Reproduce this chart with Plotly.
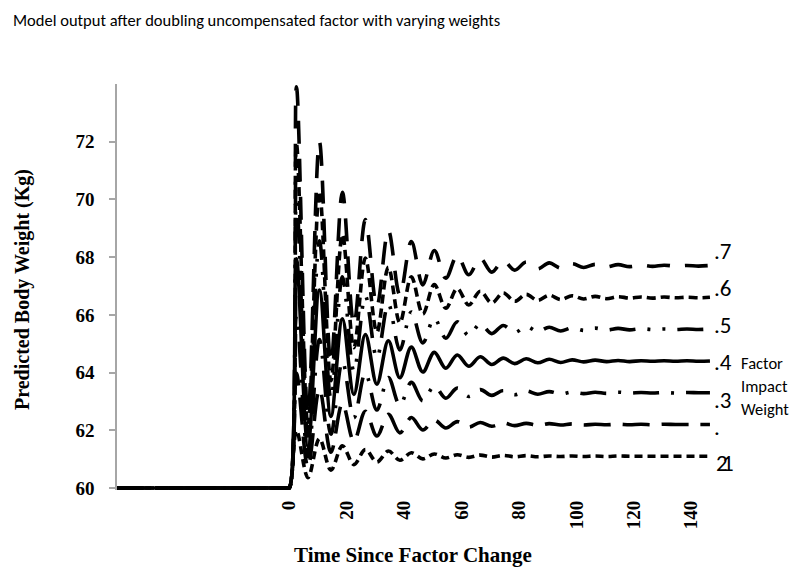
import plotly.graph_objects as go

# ---------------- data ----------------
time_since_change = [-60, -1, 0,
    2.5, 6.5, 10.5, 14.5, 18.5, 22.5, 26.5, 30.5, 34.5, 38.5, 42.5, 46.5,
    50.5, 54.5, 58.5, 62.5, 66.5, 70.5, 74.5, 78.5, 82.5, 86.5, 90.5, 94.5,
    98.5, 102.5, 106.5, 110.5, 114.5, 118.5, 122.5, 126.5, 130.5, 134.5,
    138.5, 142.5, 146.5]

weight_07 = [60, 60, 60,
    73.90, 62.52, 72.00, 64.34, 70.25, 65.67, 69.30, 66.30, 68.93, 66.69, 68.54, 67.04,
    68.23, 67.27, 68.06, 67.39, 67.96, 67.48, 67.88, 67.55, 67.83, 67.59, 67.80, 67.62,
    67.77, 67.64, 67.75, 67.66, 67.74, 67.67, 67.72, 67.68, 67.72, 67.69,
    67.71, 67.69, 67.71]

weight_06 = [60, 60, 60,
    71.92, 62.16, 70.28, 63.72, 68.78, 64.86, 67.97, 65.40, 67.65, 65.73, 67.32, 66.03,
    67.05, 66.23, 66.91, 66.34, 66.82, 66.41, 66.76, 66.47, 66.71, 66.50, 66.68, 66.53,
    66.66, 66.55, 66.64, 66.56, 66.63, 66.58, 66.62, 66.58, 66.62, 66.59,
    66.61, 66.59, 66.61]

weight_05 = [60, 60, 60,
    69.93, 61.80, 68.57, 63.10, 67.32, 64.05, 66.65, 64.50, 66.38, 64.78, 66.10, 65.03,
    65.88, 65.19, 65.76, 65.28, 65.69, 65.35, 65.63, 65.39, 65.60, 65.42, 65.57, 65.44,
    65.55, 65.46, 65.54, 65.47, 65.53, 65.48, 65.52, 65.49, 65.51, 65.49,
    65.51, 65.49, 65.51]

weight_04 = [60, 60, 60,
    67.94, 61.44, 66.86, 62.48, 65.86, 63.24, 65.32, 63.60, 65.10, 63.82, 64.88, 64.02,
    64.70, 64.15, 64.61, 64.22, 64.55, 64.28, 64.50, 64.31, 64.48, 64.34, 64.46, 64.35,
    64.44, 64.37, 64.43, 64.38, 64.42, 64.38, 64.41, 64.39, 64.41, 64.39,
    64.41, 64.39, 64.40]

weight_03 = [60, 60, 60,
    65.96, 61.08, 65.14, 61.86, 64.39, 62.43, 63.99, 62.70, 63.83, 62.87, 63.66, 63.02,
    63.53, 63.11, 63.46, 63.17, 63.41, 63.21, 63.38, 63.23, 63.36, 63.25, 63.34, 63.26,
    63.33, 63.27, 63.32, 63.28, 63.32, 63.29, 63.31, 63.29, 63.31, 63.29,
    63.31, 63.30, 63.30]

weight_02 = [60, 60, 60,
    63.97, 60.72, 63.43, 61.24, 62.93, 61.62, 62.66, 61.80, 62.55, 61.91, 62.44, 62.01,
    62.35, 62.08, 62.30, 62.11, 62.27, 62.14, 62.25, 62.16, 62.24, 62.17, 62.23, 62.18,
    62.22, 62.18, 62.21, 62.19, 62.21, 62.19, 62.21, 62.19, 62.21, 62.20,
    62.20, 62.20, 62.20]

weight_01 = [60, 60, 60,
    61.99, 60.36, 61.71, 60.62, 61.46, 60.81, 61.33, 60.90, 61.28, 60.96, 61.22, 61.01,
    61.18, 61.04, 61.15, 61.06, 61.14, 61.07, 61.13, 61.08, 61.12, 61.08, 61.11, 61.09,
    61.11, 61.09, 61.11, 61.09, 61.11, 61.10, 61.10, 61.10, 61.10, 61.10,
    61.10, 61.10, 61.10]

series_names = [".7", ".6", ".5", ".4", ".3", ".2", ".1"]
series_values = [weight_07, weight_06, weight_05, weight_04, weight_03, weight_02, weight_01]

x_tick_values = [0, 20, 40, 60, 80, 100, 120, 140]
y_tick_values = [60, 62, 64, 66, 68, 70, 72]

# ---------------- styling ----------------
dash_styles = {
    ".7": "23px,15px",
    ".6": "9px,5px",
    ".5": "26px,12px,3px,12px,3px,12px",
    ".4": "solid",
    ".3": "26px,12px,3px,12px",
    ".2": "27px,12px",
    ".1": "8px,5px",
}

# page offset (default body margin of the html page)
OFF = 8
W, H = 800 - OFF, 574 - OFF
# plot area in reference-picture pixels
PL, PR, PT, PB = 117, 720, 84, 490


def px(x):
    return (x - PL) / (PR - PL)


def py(y):
    return (PB - y) / (PB - PT)


fig = go.Figure()
for name, vals in zip(series_names, series_values):
    fig.add_trace(go.Scatter(
        x=time_since_change, y=vals, mode="lines", name=name,
        line=dict(color="black", width=3.6, dash=dash_styles[name],
                  shape="spline", smoothing=1),
        showlegend=False, hoverinfo="skip",
    ))

serif = "Liberation Serif, Times New Roman, serif"
calibri = "Carlito, Lato, sans-serif"

fig.update_layout(
    width=W, height=H,
    margin=dict(l=PL - OFF, r=800 - PR, t=PT - OFF, b=574 - PB, pad=0),
    paper_bgcolor="white", plot_bgcolor="white",
    xaxis=dict(range=[-60, 150], tickvals=x_tick_values, showgrid=False,
               zeroline=False, showline=False, ticks="", tickangle=-90,
               tickfont=dict(family=serif, size=19, color="black", weight="bold"),
               ticklabelstandoff=6),
    yaxis=dict(range=[59.93, 74], tickvals=y_tick_values, showgrid=False,
               zeroline=False, showline=True, linecolor="#a6a6a6", linewidth=1.5,
               ticks="outside", ticklen=6, tickcolor="#a6a6a6", tickwidth=1.5,
               tickfont=dict(family=serif, size=19, color="black", weight="bold"),
               ticklabelstandoff=11),
)

lab = dict(family=calibri, size=23, color="black")
small = dict(family=calibri, size=16.5, color="black")
annotations = [
    dict(text="Model output after doubling uncompensated factor with varying weights",
         x=px(11), y=py(8), xanchor="left", yanchor="top",
         font=dict(family=calibri, size=16.5, color="black")),
    dict(text="Predicted Body Weight (Kg)", x=px(22), y=py(290), textangle=-90,
         xanchor="center", yanchor="middle",
         font=dict(family=serif, size=20, color="black", weight="bold")),
    dict(text="Time Since Factor Change", x=px(413), y=py(555),
         xanchor="center", yanchor="middle",
         font=dict(family=serif, size=21, color="black", weight="bold")),
    dict(text=".7", x=px(712), y=py(251), xanchor="left", yanchor="middle", font=lab),
    dict(text=".6", x=px(712), y=py(288), xanchor="left", yanchor="middle", font=lab),
    dict(text=".5", x=px(712), y=py(325), xanchor="left", yanchor="middle", font=lab),
    dict(text=".4", x=px(712), y=py(362), xanchor="left", yanchor="middle", font=lab),
    dict(text=".3", x=px(712), y=py(400), xanchor="left", yanchor="middle", font=lab),
    dict(text=".", x=px(712), y=py(427), xanchor="left", yanchor="middle", font=lab),
    dict(text="2", x=px(714), y=py(463), xanchor="left", yanchor="middle", font=lab),
    dict(text="1", x=px(720), y=py(463), xanchor="left", yanchor="middle", font=lab),
    dict(text="Factor", x=px(739), y=py(363), xanchor="left", yanchor="middle", font=small),
    dict(text="Impact", x=px(739), y=py(386), xanchor="left", yanchor="middle", font=small),
    dict(text="Weight", x=px(739), y=py(409), xanchor="left", yanchor="middle", font=small),
]
for a in annotations:
    a.update(xref="paper", yref="paper", showarrow=False)
fig.update_layout(annotations=annotations)

fig.write_html("out.html")
